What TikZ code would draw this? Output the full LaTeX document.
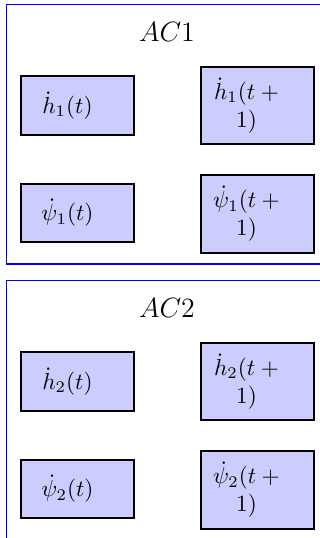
\documentclass[tikz,border=0pt]{standalone}
\usepackage{tikz}
\tikzset{
  frame/.style={draw=blue, line width=0.6pt},
  varbox/.style={draw=black, fill=blue!20, line width=0.85pt},
  vartext/.style={inner sep=0pt, text width=33pt, align=center},
  title/.style={inner sep=0pt, font=\large}
}
\begin{document}
\begin{tikzpicture}[x=0.43pt, y=-0.43pt]
\clip (0,0) rectangle (320,538);
\fill[white] (0,0) rectangle (320,538);
% frames
\draw[frame] (6.5,4.5) rectangle (340,264);
\draw[frame] (6.5,280.5) rectangle (340,560);
% AC1
\node[title] (t1) at (167,32) {$AC1$};
\filldraw[varbox] (21,76) rectangle (134,135);
\filldraw[varbox] (201,67) rectangle (314,144);
\filldraw[varbox] (21,184) rectangle (134,242);
\filldraw[varbox] (201,175) rectangle (314,253);
\node[vartext] (h1tl) at (67.5,105.5) {$\dot h_1(t)$};
\node[vartext] (h1nl) at (246.5,105.5) {$\dot h_1(t+1)$};
\node[vartext] (p1tl) at (67.5,213) {$\dot \psi_1(t)$};
\node[vartext] (p1nl) at (246.5,214) {$\dot \psi_1(t+1)$};
% AC2
\node[title] (t2) at (167,308) {$AC2$};
\filldraw[varbox] (21,352) rectangle (134,411);
\filldraw[varbox] (201,343) rectangle (314,420);
\filldraw[varbox] (21,460) rectangle (134,518);
\filldraw[varbox] (201,451) rectangle (314,529);
\node[vartext] (h2tl) at (67.5,381.5) {$\dot h_2(t)$};
\node[vartext] (h2nl) at (246.5,381.5) {$\dot h_2(t+1)$};
\node[vartext] (p2tl) at (67.5,489) {$\dot \psi_2(t)$};
\node[vartext] (p2nl) at (246.5,490) {$\dot \psi_2(t+1)$};
\end{tikzpicture}
\end{document}
